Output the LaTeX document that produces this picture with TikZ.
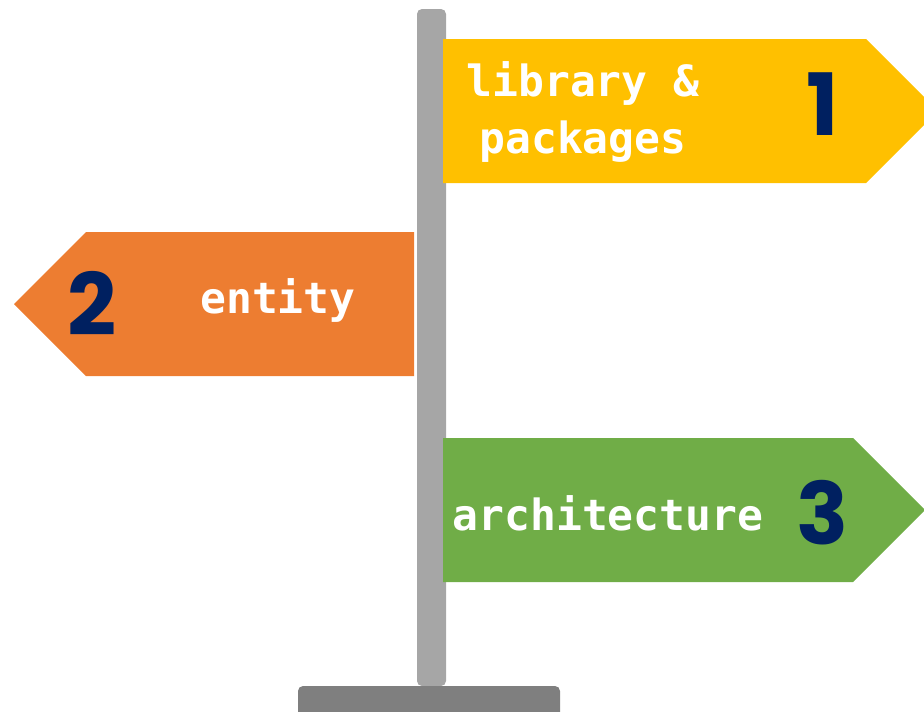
\documentclass[tikz,border=0pt]{standalone}
\usepackage{fontspec}
\setmonofont{DejaVu Sans Mono}
\newfontfamily\digitfont{Poppins}[BoldFont={Poppins Bold}]
\definecolor{postgray}{HTML}{A6A6A6}
\definecolor{basegray}{HTML}{7F7F7F}
\definecolor{signyellow}{HTML}{FFC000}
\definecolor{signorange}{HTML}{ED7D31}
\definecolor{signgreen}{HTML}{70AD47}
\definecolor{navy}{HTML}{002060}
\tikzset{
  signlabel/.style={text=white, font=\ttfamily\bfseries\fontsize{43}{57}\selectfont, inner sep=0pt, align=center},
  signnum/.style={text=navy, font=\digitfont\bfseries\fontsize{86}{86}\selectfont, inner sep=0pt},
}
\begin{document}
\begin{tikzpicture}[x=1pt, y=-1pt]
  \useasboundingbox (0,0) rectangle (924,712);
  \begin{scope}
    \clip (0,0) rectangle (924,712);
    % post and base
    \fill[postgray, rounded corners=5pt] (417,686) -- (417,9) -- (446,9) -- (446,686) -- cycle;
    \fill[basegray, rounded corners=5pt] (298,730) -- (298,686) -- (560,686) -- (560,730) -- cycle;
    % signs
    \fill[signyellow] (443,39) -- (866,39) -- (938,111) -- (866,183) -- (443,183) -- cycle;
    \fill[signorange] (414,232) -- (86,232) -- (14,304) -- (86,376) -- (414,376) -- cycle;
    \fill[signgreen] (443,438) -- (853,438) -- (925,510) -- (853,582) -- (443,582) -- cycle;
  \end{scope}
  % labels
  \node[signlabel] (lib) at (583,112) {library \&\\packages};
  \node[signnum] (n1) at (823,104) {1};
  \node[signlabel] (ent) at (278,300) {entity};
  \node[signnum] (n2) at (92,303) {2};
  \node[signlabel] (arch) at (608,513) {architecture};
  \node[signnum] (n3) at (823,513) {3};
\end{tikzpicture}
\end{document}
